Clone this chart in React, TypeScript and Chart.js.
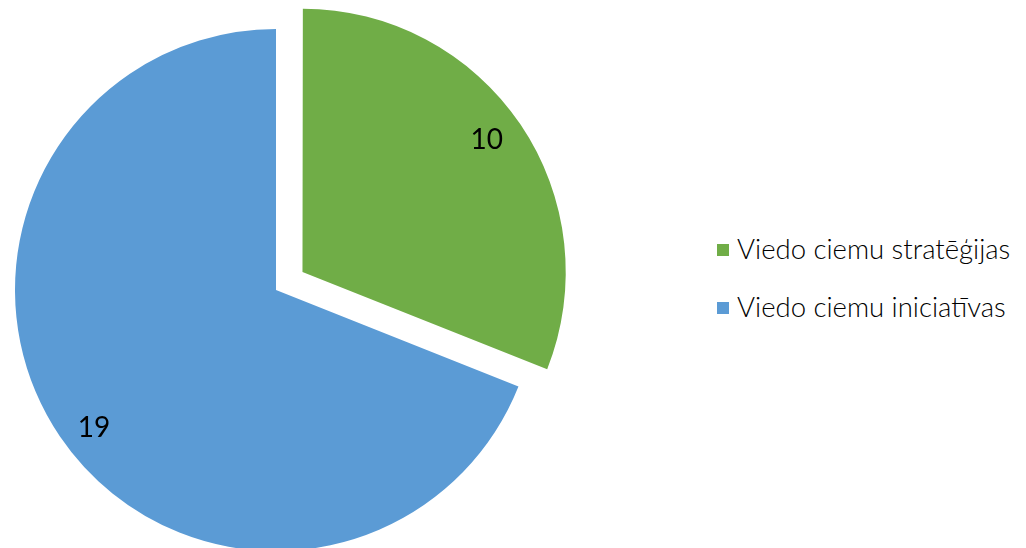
import React, { useEffect, useRef } from "react";
import { Chart, registerables } from "chart.js";

Chart.register(...registerables);

// Legend categories, slice shares as drawn in the picture, printed data labels
const categories = ["Viedo ciemu stratēģijas", "Viedo ciemu iniciatīvas"];
const sliceValues = [9, 20];
const dataLabels = ["10", "19"];
const colors = ["#70AD47", "#5B9BD5"];
const explode = [128, 0];

export default function App() {
  const ref = useRef<HTMLCanvasElement>(null);

  useEffect(() => {
    document.body.style.margin = "0";
    const labelPlugin = {
      id: "sliceLabels",
      afterDatasetsDraw(chart: any) {
        const ctx = chart.ctx;
        const meta = chart.getDatasetMeta(0);
        ctx.save();
        ctx.fillStyle = "#000000";
        ctx.font = "28px Lato";
        ctx.textAlign = "center";
        ctx.textBaseline = "middle";
        meta.data.forEach((arc: any, i: number) => {
          const p = arc.getProps(["x", "y", "startAngle", "endAngle", "outerRadius"], true);
          const mid = (p.startAngle + p.endAngle) / 2;
          const a = p.startAngle + (p.endAngle - p.startAngle) * 0.487;
          const off = (arc.options.offset || 0) / 4;
          const r = p.outerRadius * 0.868;
          const cx = p.x + Math.cos(mid) * off;
          const cy = p.y + Math.sin(mid) * off;
          ctx.fillText(dataLabels[i], cx + Math.cos(a) * r - (i === 1 ? 2 : 0), cy + Math.sin(a) * r);
        });
        ctx.restore();
      },
    };
    const chart = new Chart(ref.current as HTMLCanvasElement, {
      type: "pie",
      data: {
        labels: categories,
        datasets: [
          {
            data: sliceValues,
            backgroundColor: colors,
            borderWidth: 0,
            offset: explode,
            radius: 261,
            clip: false,
          } as any,
        ],
      },
      options: {
        responsive: false,
        animation: false,
        layout: { padding: { right: 148 } },
        plugins: { legend: { display: false }, tooltip: { enabled: false } },
      },
      plugins: [labelPlugin],
    });
    return () => chart.destroy();
  }, []);

  return (
    <div
      style={{
        position: "fixed",
        left: 0,
        top: 0,
        width: 1026,
        height: 548,
        overflow: "hidden",
        background: "#ffffff",
      }}
    >
      <canvas ref={ref} width={700} height={580} style={{ position: "absolute", left: 0, top: 0 }} />
      {categories.map((c, i) => (
        <div
          key={c}
          style={{
            position: "absolute",
            left: 717,
            top: 232 + i * 58,
            height: 32,
            display: "flex",
            alignItems: "center",
            fontFamily: "Lato",
            fontWeight: 300,
            fontSize: 27.5,
            color: "#000000",
            whiteSpace: "nowrap",
          }}
        >
          <span
            style={{
              display: "inline-block",
              width: 12,
              height: 12,
              background: colors[i],
              marginRight: 8,
              position: "relative",
              top: 2,
            }}
          />
          <span>{c}</span>
        </div>
      ))}
    </div>
  );
}
